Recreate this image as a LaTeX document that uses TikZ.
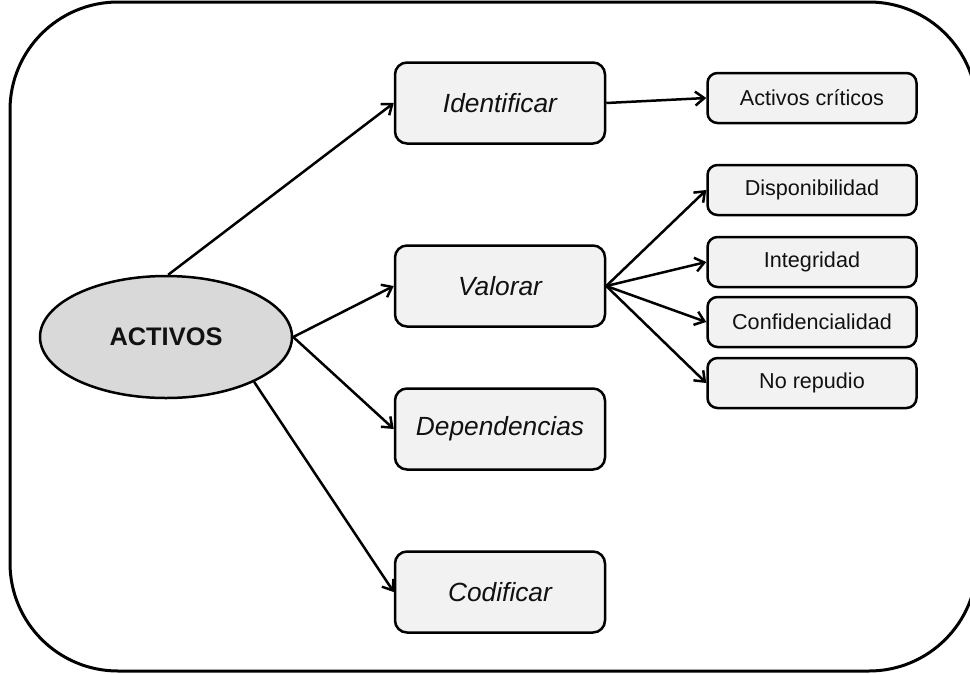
\documentclass[tikz,border=0pt]{standalone}
\usepackage{fontspec}
\setmainfont{Liberation Sans}
\usetikzlibrary{arrows.meta,shapes.geometric}
\definecolor{boxfill}{HTML}{F2F2F2}
\definecolor{ovalfill}{HTML}{D9D9D9}
\definecolor{ink}{HTML}{111111}
\begin{document}
\begin{tikzpicture}[x=1pt,y=-1pt,
  frameline/.style={line width=3pt,rounded corners=108pt},
  mainbox/.style={draw,line width=2.5pt,fill=boxfill,rounded corners=12pt,
    minimum width=210pt,minimum height=81pt,inner sep=0pt,
    font=\fontsize{26.3}{30}\selectfont\itshape,text=ink},
  subbox/.style={draw,line width=2.5pt,fill=boxfill,rounded corners=10pt,
    minimum width=209pt,minimum height=50pt,inner sep=0pt,
    font=\fontsize{21.6}{25}\selectfont,text=ink},
  oval/.style={draw,ellipse,line width=2.5pt,fill=ovalfill,
    minimum width=252pt,minimum height=122pt,inner sep=0pt,
    font=\fontsize{25.4}{29}\selectfont\bfseries,text=ink},
  arr/.style={line width=2.5pt,-{Straight Barb[length=9pt,width=14pt]}}]
\useasboundingbox (0,0) rectangle (970,673);
% outer frame
\draw[frameline] (10,2) rectangle (977,671);
% central node
\node[oval] (act) at (166,337) {ACTIVOS};
% first level
\node[mainbox] (ide) at (500,103) {Identificar};
\node[mainbox] (val) at (500,286) {Valorar};
\node[mainbox] (dep) at (500,429) {Dependencias};
\node[mainbox] (cod) at (500,592) {Codificar};
% second level
\node[subbox] (crit) at (812,98) {Activos críticos};
\node[subbox] (disp) at (812,190) {Disponibilidad};
\node[subbox] (integ) at (812,262) {Integridad};
\node[subbox] (conf) at (812,322) {Confidencialidad};
\node[subbox] (norep) at (812,383) {No repudio};
% connectors
\draw[arr] (act.88) -- (ide.west);
\draw[arr] (act.east) -- (val.west);
\draw[arr] (act.east) -- (dep.west);
\draw[arr] (act.-27) -- (cod.west);
\draw[arr] (ide.east) -- (crit.west);
\draw[arr] (val.east) -- (disp.west);
\draw[arr] (val.east) -- (integ.west);
\draw[arr] (val.east) -- (conf.west);
\draw[arr] (val.east) -- (norep.west);
\end{tikzpicture}
\end{document}
